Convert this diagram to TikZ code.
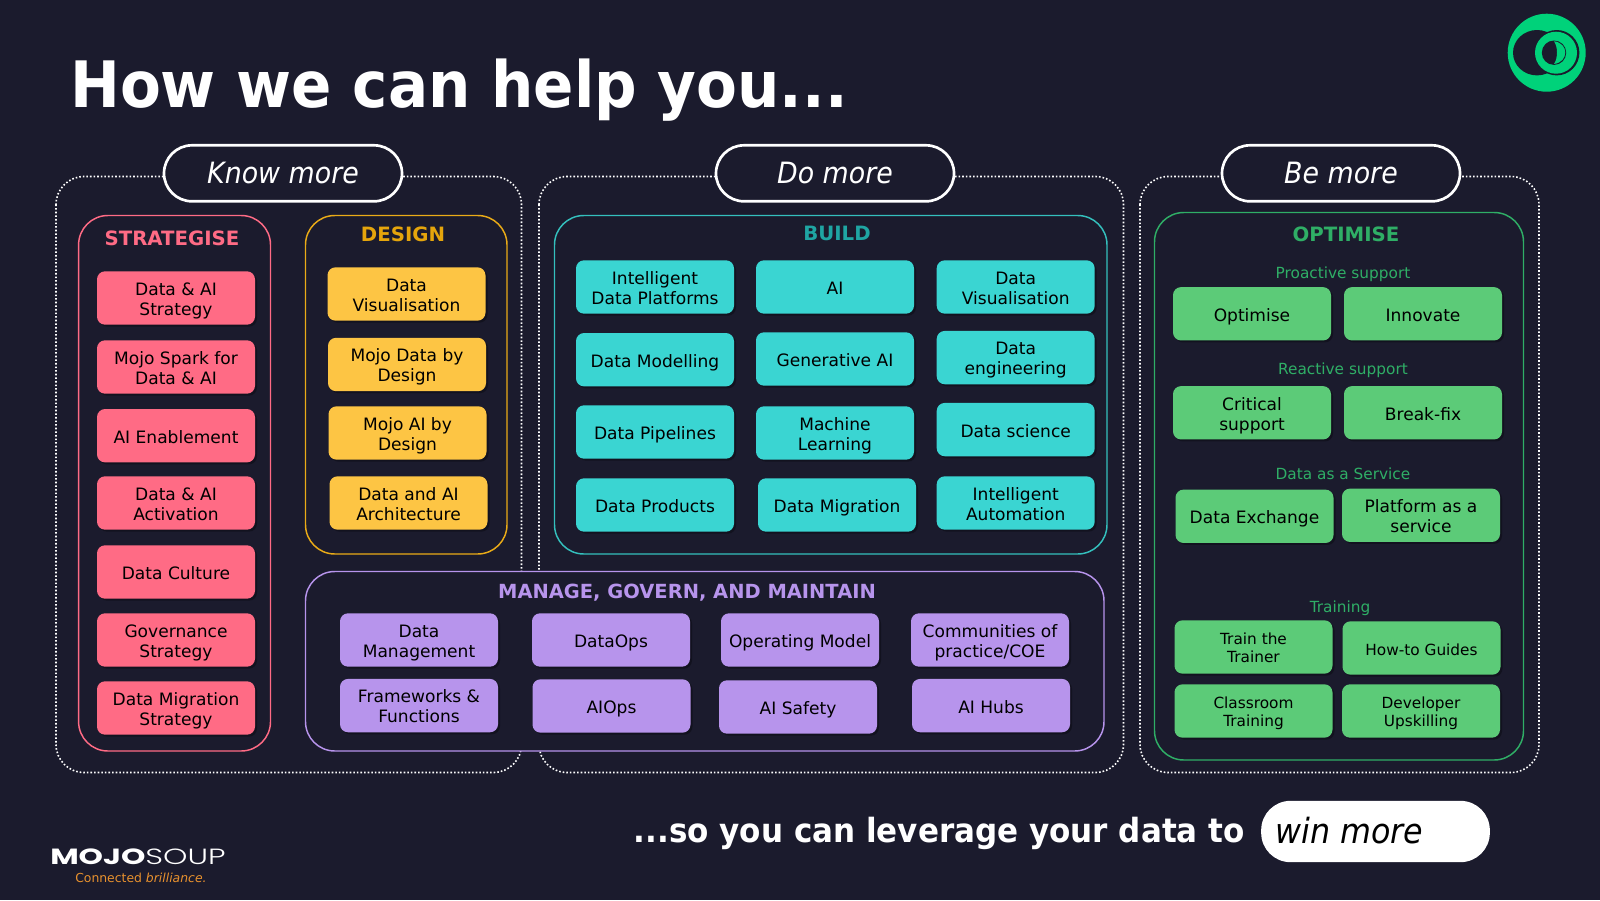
\documentclass[tikz,border=0pt]{standalone}
\usepackage{fontspec}
\usepackage{graphicx}
\setmainfont{DejaVu Sans}
\newfontfamily\tightfont[FakeStretch=0.93]{DejaVu Sans}
\newfontfamily\pillfont[FakeStretch=0.915]{DejaVu Sans}
\newfontfamily\brandfont{Poppins}
\newfontfamily\brandlight{Poppins Light}
\usetikzlibrary{shadows}
\definecolor{bgdark}{HTML}{1B1B2D}
\definecolor{logogreen}{HTML}{00D27A}
\definecolor{pinkfill}{HTML}{FF6B85}
\definecolor{yellowfill}{HTML}{FDC544}
\definecolor{yellowhead}{HTML}{E5A50C}
\definecolor{tealfill}{HTML}{3AD5D2}
\definecolor{tealhead}{HTML}{1FA5A3}
\definecolor{purplefill}{HTML}{B794EC}
\definecolor{greenfill}{HTML}{5CCB78}
\definecolor{greenhead}{HTML}{2FAE66}
\definecolor{brandorange}{HTML}{E8912D}
\tikzset{
  frame/.style={white,line width=1.2pt,dash pattern=on 1.2pt off 1.5pt,rounded corners=21pt},
  pill/.style={draw=white,line width=2pt,fill=bgdark,rounded corners=21pt,minimum width=178.5pt,minimum height=42pt,inner sep=0pt,font=\pillfont\fontsize{22}{26}\selectfont\itshape,text=white},
  panel/.style={line width=1.1pt,rounded corners=22pt},
  head/.style={inner sep=0pt,font=\fontsize{14.8}{18}\selectfont\bfseries},
  sub/.style={inner sep=0pt,font=\fontsize{11.5}{14}\selectfont,text=greenhead},
  box/.style={rounded corners=6pt,minimum width=118.5pt,minimum height=40pt,inner sep=0pt,align=center,text=black,
    font=\fontsize{12.8}{15}\selectfont,execute at begin node={\rule{0pt}{15.9pt}},execute at end node={\rule[-4.5pt]{0pt}{4.5pt}},
    drop shadow={shadow xshift=1.5pt,shadow yshift=-1.5pt,fill=black,opacity=0.3}},
  two/.style={execute at begin node={\rule{0pt}{30.4pt}}},
  smalltwo/.style={execute at begin node={\rule{0pt}{28pt}}},
  pinkbox/.style={box,fill=pinkfill},
  yellowbox/.style={box,fill=yellowfill},
  tealbox/.style={box,fill=tealfill},
  purplebox/.style={box,fill=purplefill},
  greenbox/.style={box,fill=greenfill},
  smallbox/.style={greenbox,font=\fontsize{11.5}{13.6}\selectfont},
}
\begin{document}
\begin{tikzpicture}[x=0.75pt,y=-0.75pt]
\fill[bgdark] (0,0) rectangle (1600,900);
\useasboundingbox (0,0) rectangle (1600,900);

% title and logo
\node[anchor=base west,inner sep=0pt,text=white,font=\tightfont\fontsize{48}{56}\selectfont\bfseries] (title) at (70,107) {How we can help you...};
\fill[logogreen] (1546.7,52.7) circle (39);
\fill[bgdark] (1537,52.7) ellipse (24 and 22.7);
\fill[bgdark] (1556.7,52.7) circle (22.7);
\fill[logogreen] (1556,52.7) circle (21);
\fill[bgdark] (1554,52.7) circle (12.2);
\fill[logogreen] (1554,41.3) .. controls (1569,43) and (1569,62) .. (1554,64) .. controls (1558,58) and (1558,47) .. (1554,41.3);

% dotted frames
\draw[frame] (56,176.5) rectangle (521.5,772.5);
\draw[frame] (539,176.5) rectangle (1123.5,772.5);
\draw[frame] (1140,176.5) rectangle (1539,772.5);
\node[pill] (know) at (283,173.3) {Know more};
\node[pill] (do) at (835,173.3) {Do more};
\node[pill] (be) at (1341,173.3) {Be more};

% panels
\draw[panel,draw=pinkfill] (78.6,215.5) rectangle (270.5,751);
\draw[panel,draw=yellowhead!80!yellowfill] (305.5,215.5) rectangle (507,554);
\draw[panel,draw=tealfill!90!black] (554.5,215.5) rectangle (1107,554);
\draw[panel,draw=purplefill,fill=bgdark] (305.5,571.5) rectangle (1104,751);
\draw[panel,draw=greenhead] (1154.5,212.5) rectangle (1523.5,760);
\node[head,text=pinkfill] (strategise) at (172,238.5) {STRATEGISE};
\node[head,text=yellowhead] (design) at (403,234.7) {DESIGN};
\node[head,text=tealhead] (build) at (837,233.7) {BUILD};
\node[head,text=purplefill,font=\fontsize{14.6}{18}\selectfont\bfseries] (manage) at (687,593) {MANAGE, GOVERN, AND MAINTAIN};
\node[head,text=greenhead] (optimise) at (1346,234.7) {OPTIMISE};

% strategise
\node[pinkbox,two] (s1) at (176,298) {Data \& AI\\Strategy};
\node[pinkbox,two] (s2) at (176,367) {Mojo Spark for\\Data \& AI};
\node[pinkbox] (s3) at (176,435.7) {AI Enablement};
\node[pinkbox,two] (s4) at (176,503) {Data \& AI\\Activation};
\node[pinkbox] (s5) at (176,572) {Data Culture};
\node[pinkbox,two] (s6) at (176,640) {Governance\\Strategy};
\node[pinkbox,two] (s7) at (176,708) {Data Migration\\Strategy};

% design
\node[yellowbox,two] (d1) at (406.5,294) {Data\\Visualisation};
\node[yellowbox,two] (d2) at (407,364.5) {Mojo Data by\\Design};
\node[yellowbox,two] (d3) at (407.5,433) {Mojo AI by\\Design};
\node[yellowbox,two] (d4) at (408.5,503) {Data and AI\\Architecture};

% build
\node[tealbox,two] (b1) at (655,287) {Intelligent\\Data Platforms};
\node[tealbox] (b2) at (835,287) {AI};
\node[tealbox,two] (b3) at (1015.7,287) {Data\\Visualisation};
\node[tealbox] (b4) at (655,359.7) {Data Modelling};
\node[tealbox] (b5) at (835,359) {Generative AI};
\node[tealbox,two] (b6) at (1015.7,357.6) {Data\\engineering};
\node[tealbox] (b7) at (655,432) {Data Pipelines};
\node[tealbox,two] (b8) at (835,433) {Machine\\Learning};
\node[tealbox] (b9) at (1015.7,429.6) {Data science};
\node[tealbox] (b10) at (655,505) {Data Products};
\node[tealbox] (b11) at (837,505) {Data Migration};
\node[tealbox,two] (b12) at (1015.7,503) {Intelligent\\Automation};

% manage
\node[purplebox,two] (m1) at (419,640) {Data\\Management};
\node[purplebox] (m2) at (611,640) {DataOps};
\node[purplebox] (m3) at (800,640) {Operating Model};
\node[purplebox,two] (m4) at (990,640) {Communities of\\practice/COE};
\node[purplebox,two] (m5) at (419,705.6) {Frameworks \&\\Functions};
\node[purplebox] (m6) at (611.5,706) {AIOps};
\node[purplebox] (m7) at (798,707) {AI Safety};
\node[purplebox] (m8) at (991,705.6) {AI Hubs};

% optimise
\node[sub] (proactive) at (1343,274) {Proactive support};
\node[greenbox] (o1) at (1252,313.8) {Optimise};
\node[greenbox] (o2) at (1423,313.8) {Innovate};
\node[sub] (reactive) at (1343,370) {Reactive support};
\node[greenbox,two] (o3) at (1252,412.8) {Critical\\support};
\node[greenbox] (o4) at (1423,412.8) {Break-fix};
\node[sub] (service) at (1343,473.5) {Data as a Service};
\node[greenbox] (o5) at (1254.5,516.3) {Data Exchange};
\node[greenbox,two] (o6) at (1421,515.3) {Platform as a\\service};
\node[sub] (training) at (1340,608) {Training};
\node[smallbox,smalltwo] (o7) at (1253.5,647) {Train the\\Trainer};
\node[smallbox] (o8) at (1421.5,648) {How-to Guides};
\node[smallbox,smalltwo] (o9) at (1253.5,711) {Classroom\\Training};
\node[smallbox,smalltwo] (o10) at (1421,711) {Developer\\Upskilling};

% footer
\node[anchor=base east,inner sep=0pt,text=white,font=\tightfont\fontsize{25}{30}\selectfont\bfseries] (leverage) at (1245,842) {...so you can leverage your data to};
\node[fill=white,rounded corners=22pt,minimum width=171.5pt,minimum height=46pt,inner sep=0pt] (winpill) at (1375.5,831.5) {};
\node[anchor=base west,inner sep=0pt,text=black,font=\pillfont\fontsize{26}{30}\selectfont\itshape] (win) at (1275,843) {win more};
\node[anchor=base west,inner sep=0pt,text=white,font=\fontsize{16.5}{18}\selectfont] (brand) at (50,864) {\scalebox{1.41}[1]{{\brandfont\bfseries MOJO}{\brandlight SOUP}}};
\node[anchor=base west,inner sep=0pt,text=brandorange,font=\fontsize{9.3}{10}\selectfont] (tagline) at (75,882) {Connected \textit{brilliance.}};
\end{tikzpicture}
\end{document}
